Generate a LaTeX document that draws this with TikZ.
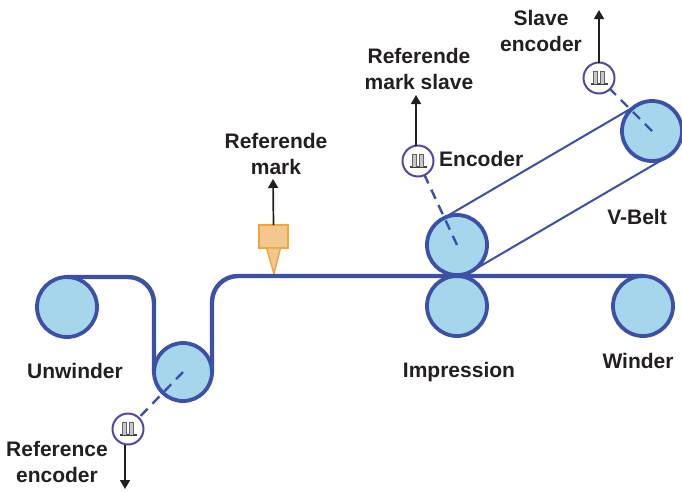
\documentclass[tikz,border=0pt]{standalone}
\usepackage{fontspec}
\setmainfont{Liberation Sans}
\usetikzlibrary{arrows.meta,calc}
\definecolor{beltblue}{HTML}{3B50A6}
\definecolor{rollfill}{HTML}{A6D6EC}
\definecolor{encring}{HTML}{5A44A3}
\definecolor{inkdark}{HTML}{231F20}
\definecolor{markfill}{HTML}{F3C88F}
\definecolor{markedge}{HTML}{EFA63C}
\tikzset{
  roller/.style={circle,draw=beltblue,fill=rollfill,line width=3.8pt,inner sep=0pt,outer sep=0pt,minimum size=#1},
  roller/.default=59pt,
  encoder/.style={circle,draw=encring,fill=white,line width=2pt,inner sep=0pt,outer sep=0pt,minimum size=31pt,
    path picture={
      \draw[inkdark!85,line width=1.2pt] ($(path picture bounding box.center)+(-8.5,6)$) -- ($(path picture bounding box.center)+(8.5,6)$);
      \draw[inkdark!70,line width=1.4pt,fill=inkdark!25] ($(path picture bounding box.center)+(-5.5,6)$) -- ++(0,-12.5) -- ++(4,0) -- ++(0,12.5);
      \draw[inkdark!70,line width=1.4pt,fill=inkdark!25] ($(path picture bounding box.center)+(1.5,6)$) -- ++(0,-12.5) -- ++(4,0) -- ++(0,12.5);
    }},
  lbl/.style={font=\fontsize{21pt}{22pt}\selectfont\bfseries,text=inkdark,inner sep=0pt,align=center},
  webline/.style={draw=beltblue,line width=4.4pt},
  vbelt/.style={draw=beltblue,line width=2pt},
  shaftline/.style={draw=beltblue,line width=2.4pt,dash pattern=on 10pt off 7pt},
  signal/.style={draw=inkdark,line width=1.7pt,-{Triangle[length=9pt,width=10pt]}},
}
\begin{document}
\begin{tikzpicture}[x=1pt,y=-1pt]
\useasboundingbox (0,0) rectangle (682,491);
% rollers
\node[roller=60pt] (unw) at (67,307) {};
\node[roller=58pt] (dan) at (183,372) {};
\node[roller=60pt] (imptop) at (457,245) {};
\node[roller=60pt] (impbot) at (457,306) {};
\node[roller=60pt] (win) at (643,306) {};
\node[roller=60pt] (vroll) at (652,131) {};
% encoders
\node[encoder] (encref) at (128,429) {};
\node[encoder] (encmark) at (418,161) {};
\node[encoder] (encslave) at (599,78) {};
% reference mark
\coordinate (marktip) at (274,274);
\node[draw=markedge,fill=markfill,line width=1.4pt,minimum width=29pt,minimum height=23pt,inner sep=0pt,outer sep=0pt] (markbody) at (273.5,236.5) {};
\path[draw=markedge,fill=markfill,line width=1.4pt] ($(markbody.south)+(-7,0)$) -- (marktip) -- ($(markbody.south)+(7,0)$) -- cycle;
% web
\draw[webline,rounded corners=26pt] (unw.north) -- (dan.west |- unw.north) -- (dan.west);
\draw[webline,rounded corners=26pt] (dan.east) -- (dan.east |- win.north) -- (win.north);
% v-belt
\draw[vbelt] (imptop.120) -- (vroll.120);
\draw[vbelt] (imptop.-60) -- (vroll.-60);
% encoder shafts
\draw[shaftline] (dan.center) -- (encref);
\draw[shaftline] (imptop.center) -- (encmark);
\draw[shaftline] (vroll.center) -- (encslave);
% signal arrows
\coordinate (a1) at (125,489);
\coordinate (a2) at (416,95);
\coordinate (a3) at (599,10);
\coordinate (a4) at (273,179);
\draw[signal] (encref.south -| a1) -- (a1);
\draw[signal] (encmark.north -| a2) -- (a2);
\draw[signal] (encslave.north) -- (a3);
\draw[signal] (markbody.north) -- (a4);
% labels
\node[lbl] (t1) at (276,154) {Referende\\[4pt]mark};
\node[lbl] (t2) at (419,69) {Referende\\[4pt]mark slave};
\node[lbl] (t3) at (541,31) {Slave\\[4pt]encoder};
\node[lbl,anchor=west] (t4) at (439,159) {Encoder};
\node[lbl] (t5) at (637,217) {V-Belt};
\node[lbl] (t6) at (459,372) {Impression};
\node[lbl] (t7) at (638,361) {Winder};
\node[lbl] (t8) at (75,371) {Unwinder};
\node[lbl] (t9) at (57,462) {Reference\\[4pt]encoder};
\end{tikzpicture}
\end{document}
